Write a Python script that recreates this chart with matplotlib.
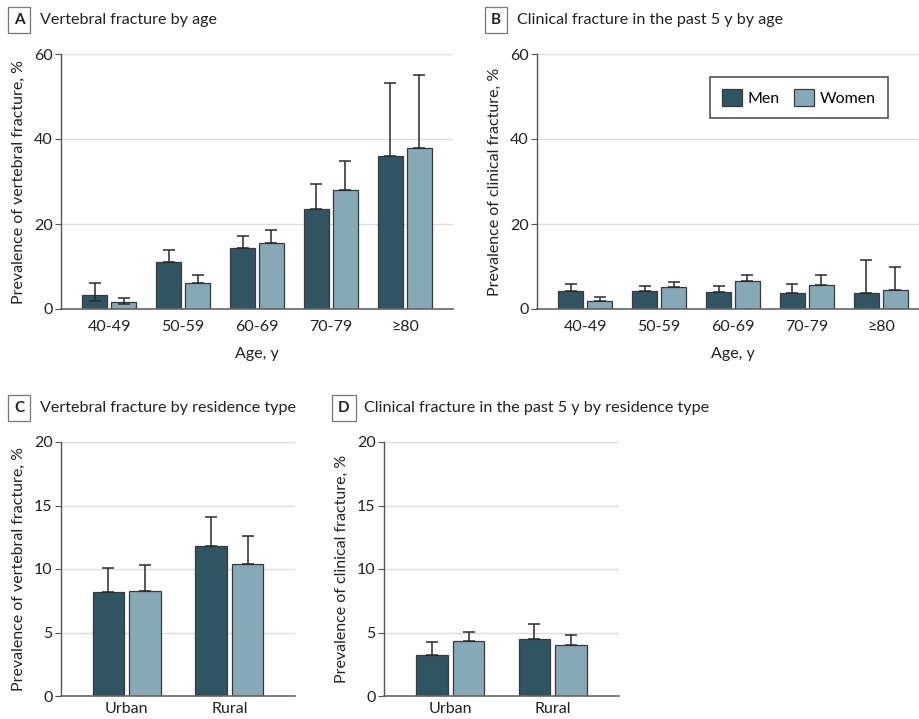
import matplotlib.pyplot as plt
import numpy as np

plt.rcParams['font.family'] = ['Lato', 'DejaVu Sans']

ages = ['40-49', '50-59', '60-69', '70-79', '≥80']
residence = ['Urban', 'Rural']

# A: vertebral fracture by age (%), with upper / lower CI bounds
vert_age_men = [3.2, 11.0, 14.3, 23.6, 35.9]
vert_age_men_hi = [6.2, 14.0, 17.2, 29.3, 53.1]
vert_age_men_lo = [2.0, 11.0, 14.3, 23.6, 35.9]
vert_age_women = [1.6, 6.1, 15.5, 28.0, 38.0]
vert_age_women_hi = [2.6, 8.1, 18.5, 34.9, 55.1]
vert_age_women_lo = [1.1, 6.1, 15.5, 28.0, 38.0]

# B: clinical fracture in the past 5 y by age (%)
clin_age_men = [4.2, 4.2, 4.0, 3.8, 3.8]
clin_age_men_hi = [6.0, 5.4, 5.4, 5.9, 11.5]
clin_age_women = [2.0, 5.1, 6.5, 5.6, 4.5]
clin_age_women_hi = [2.9, 6.3, 8.0, 8.0, 10.0]

# C: vertebral fracture by residence type (%)
vert_res_men = [8.17, 11.8]
vert_res_men_hi = [10.08, 14.1]
vert_res_women = [8.3, 10.4]
vert_res_women_hi = [10.3, 12.6]

# D: clinical fracture by residence type (%)
clin_res_men = [3.26, 4.46]
clin_res_men_hi = [4.25, 5.65]
clin_res_women = [4.36, 4.02]
clin_res_women_hi = [5.07, 4.83]

men_col = '#2f5462'
women_col = '#86a9b7'
edge_col = '#3a3a3a'
W, H = 920, 719


def panel(rect, cats, men, men_hi, women, women_hi, ymax, ystep, width, off,
          pad, ylabel, xlabel=None, men_lo=None, women_lo=None):
    l, r, t, b = rect
    ax = fig.add_axes([l / W, 1 - b / H, (r - l) / W, (b - t) / H])
    x = np.arange(len(cats))
    if men_lo is None:
        men_lo = men
    if women_lo is None:
        women_lo = women
    for vals, hi, lo, dx, col, lab in [(men, men_hi, men_lo, -off, men_col, 'Men'),
                                       (women, women_hi, women_lo, off, women_col, 'Women')]:
        vals = np.array(vals)
        ax.bar(x + dx, vals, width, color=col, edgecolor=edge_col, linewidth=0.9,
               zorder=2, label=lab)
        err = [vals - np.array(lo), np.array(hi) - vals]
        ax.errorbar(x + dx, vals, yerr=err, fmt='none', ecolor='#2a2a2a',
                    elinewidth=1.1, capsize=4.5, capthick=1.1, zorder=3)
    ax.set_xlim(-pad, len(cats) - 1 + pad)
    ax.set_ylim(0, ymax)
    ax.set_yticks(np.arange(0, ymax + 0.1, ystep))
    ax.set_xticks(x)
    ax.set_xticklabels(cats)
    ax.yaxis.grid(True, color='#dcdcdc', linewidth=1.0, zorder=0)
    ax.set_axisbelow(True)
    for s in ['top', 'right']:
        ax.spines[s].set_visible(False)
    ax.spines['left'].set_color('#555555')
    ax.spines['bottom'].set_color('#666666')
    ax.spines['left'].set_linewidth(1.0)
    ax.spines['bottom'].set_linewidth(1.2)
    ax.tick_params(axis='y', length=4, color='#555555', labelsize=11.5,
                   labelcolor='#222222', pad=2)
    ax.tick_params(axis='x', length=0, labelsize=11.5, labelcolor='#222222',
                   pad=8 if xlabel else 4.5)
    ax.set_ylabel(ylabel, fontsize=11.5, color='#222222', labelpad=6)
    if xlabel:
        ax.set_xlabel(xlabel, fontsize=11.5, color='#222222', labelpad=9)
    return ax


def title(xbox, ytxt, xtxt, letter, text):
    fig.text(xbox / W, 1 - ytxt / H, letter, ha='center', va='center',
             fontsize=11, weight='bold', color='#222222',
             bbox=dict(boxstyle='square,pad=0.4', fc='white', ec='#777777', lw=0.9))
    fig.text(xtxt / W, 1 - ytxt / H, text, ha='left', va='center',
             fontsize=11.6, color='#222222')


fig = plt.figure(figsize=(9.2, 7.19), dpi=100)

panel((61, 453, 54, 309), ages, vert_age_men, vert_age_men_hi, vert_age_women,
      vert_age_women_hi, 60, 20, 0.33, 0.196, 0.65,
      'Prevalence of vertebral fracture, %', 'Age, y',
      men_lo=vert_age_men_lo, women_lo=vert_age_women_lo)
axb = panel((537, 929, 54, 309), ages, clin_age_men, clin_age_men_hi, clin_age_women,
            clin_age_women_hi, 60, 20, 0.33, 0.196, 0.65,
            'Prevalence of clinical fracture, %', 'Age, y')
panel((61, 295, 442, 696), residence, vert_res_men, vert_res_men_hi, vert_res_women,
      vert_res_women_hi, 20, 5, 0.307, 0.179, 0.64,
      'Prevalence of vertebral fracture, %')
panel((384, 619, 442, 696), residence, clin_res_men, clin_res_men_hi, clin_res_women,
      clin_res_women_hi, 20, 5, 0.307, 0.179, 0.645,
      'Prevalence of clinical fracture, %')

leg = axb.legend(loc='upper right', bbox_to_anchor=(888 / W, 1 - 77 / H),
                 bbox_transform=fig.transFigure, ncol=2, fancybox=False,
                 edgecolor='#555555', framealpha=1, fontsize=11.5,
                 handlelength=1.2, handleheight=1.3, handletextpad=0.4,
                 columnspacing=0.9, borderpad=0.75, borderaxespad=0)
leg.get_frame().set_linewidth(1.2)

title(19, 20, 40, 'A', 'Vertebral fracture by age')
title(496, 20, 517, 'B', 'Clinical fracture in the past 5 y by age')
title(19, 408, 40, 'C', 'Vertebral fracture by residence type')
title(344, 408, 364, 'D', 'Clinical fracture in the past 5 y by residence type')

fig.savefig('out.png', dpi=100)
